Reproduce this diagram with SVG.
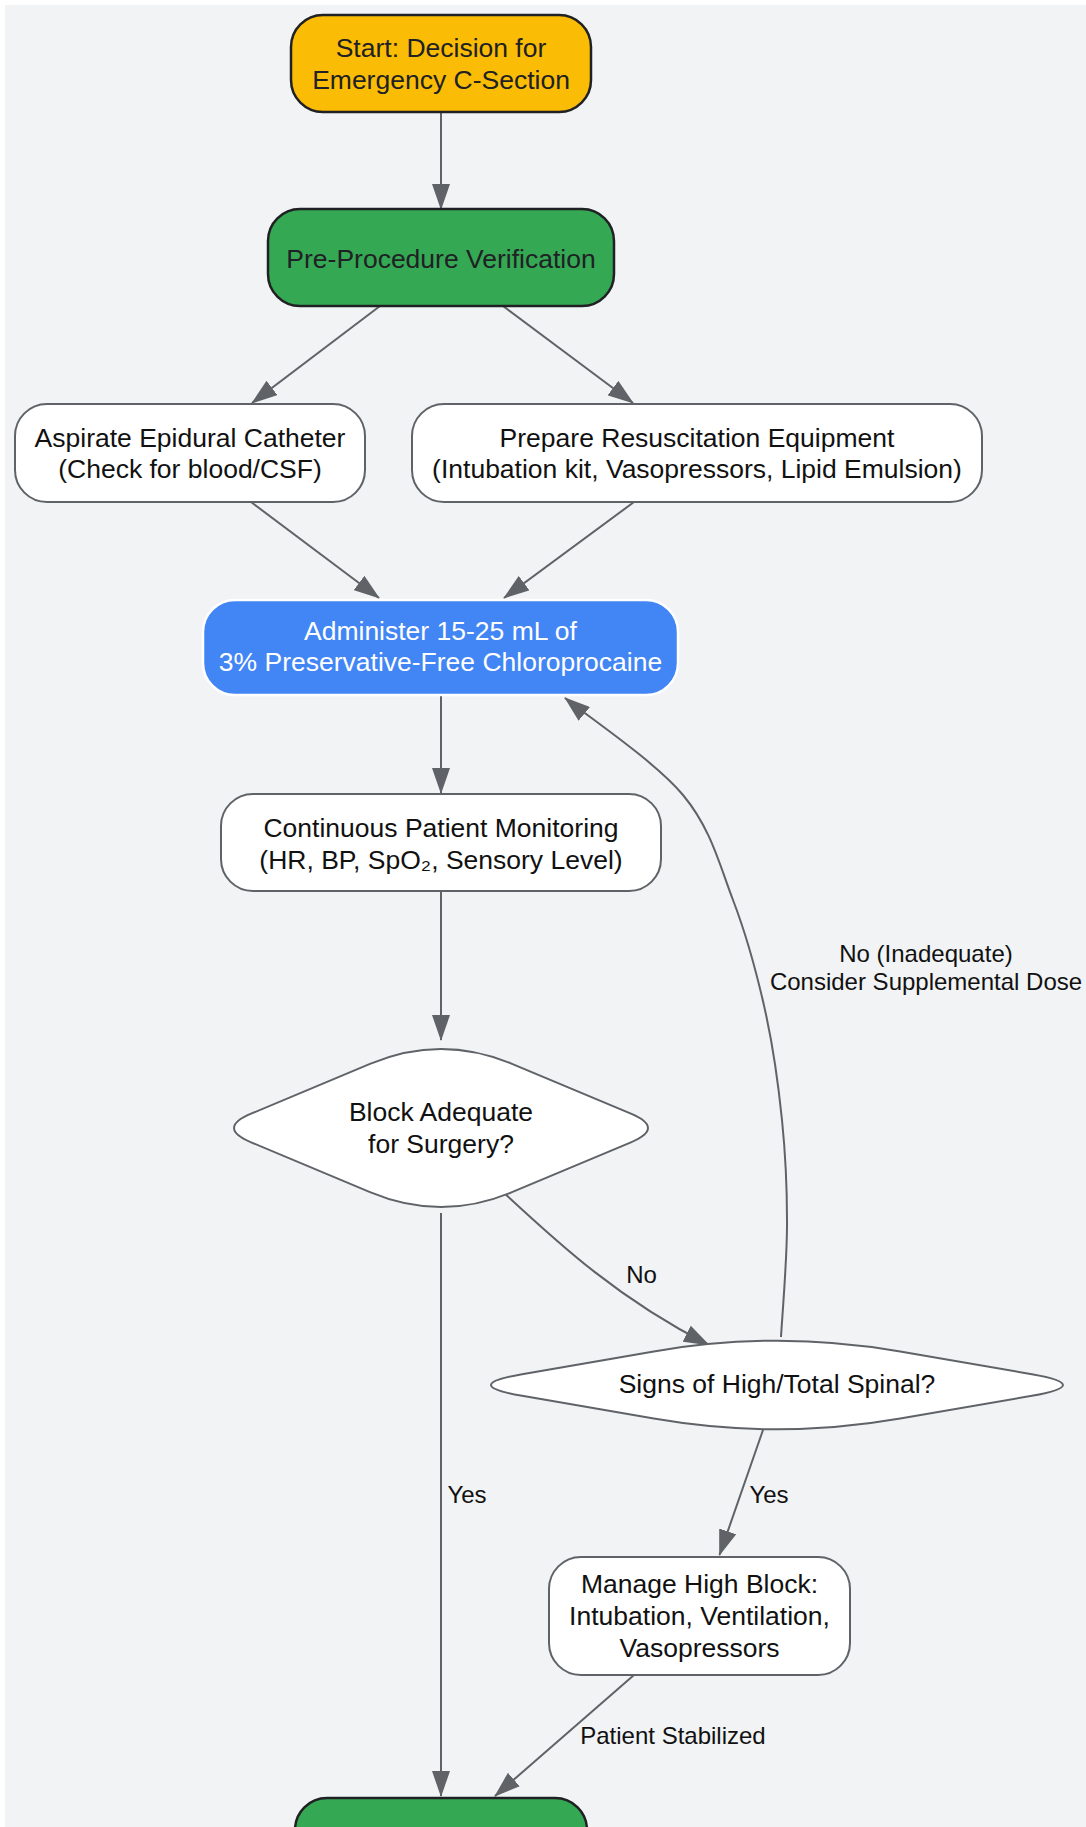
<svg xmlns="http://www.w3.org/2000/svg" width="1086" height="1827" viewBox="0 0 1086 1827">
<defs>
<style>
text{font-family:"Liberation Sans",Arial,sans-serif;text-anchor:middle}
.nt{font-size:26.5px;fill:#111}
.dk{font-size:26.5px;fill:#202124}
.wt{font-size:26.5px;fill:#ffffff}
.lb{font-size:24px;fill:#111}
.wn{fill:#ffffff;stroke:#5f6368;stroke-width:2}
.cn{stroke:#202124;stroke-width:2.5}
.e{fill:none;stroke:#5f6368;stroke-width:2;marker-end:url(#arr)}
</style>
<marker id="arr" viewBox="0 0 26 18" refX="25" refY="9" markerWidth="26" markerHeight="18" markerUnits="userSpaceOnUse" orient="auto">
<path d="M0,0 L26,9 L0,18 z" fill="#5f6368"/>
</marker>
</defs>
<rect x="0" y="0" width="1086" height="1827" fill="#ffffff"/>
<rect x="5" y="5" width="1081" height="1822" fill="#f1f3f4"/>

<g id="connectors">
<path class="e" d="M441,112 L441,209"/>
<path class="e" d="M380,306 L252,403"/>
<path class="e" d="M503,306 L633,403"/>
<path class="e" d="M251,502 L379,598"/>
<path class="e" d="M634,502 L504,598"/>
<path class="e" d="M441,695 L441,793"/>
<path class="e" d="M441,891 L441,1040"/>
<path class="e" d="M502,1191 C560,1245 620,1300 709,1345"/>
<path class="e" d="M441,1213 L441,1796"/>
<path class="e" d="M763,1430 L719.5,1555"/>
<path class="e" d="M634,1675 L495,1796"/>
<path class="e" d="M781,1337 C782,1318.7 786.8,1263.2 787,1227 C787.2,1190.8 785.7,1156.2 782,1120 C778.3,1083.8 773.2,1046.7 765,1010 C756.8,973.3 746.7,935.8 733,900 C719.3,864.2 711,828.7 683,795 C655,761.3 584.7,714.2 565,698"/>
<text class="lb" x="926" y="961.5">No (Inadequate)</text>
<text class="lb" x="926" y="989.5">Consider Supplemental Dose</text>
<text class="lb" x="641.5" y="1283">No</text>
<text class="lb" x="467" y="1503">Yes</text>
<text class="lb" x="769" y="1503">Yes</text>
<text class="lb" x="673" y="1744">Patient Stabilized</text>
</g>

<g id="start">
<rect class="cn" x="291" y="15" width="300" height="97" rx="32" fill="#fbbc05"/>
<text class="dk" x="441" y="57">Start: Decision for</text>
<text class="dk" x="441" y="89">Emergency C-Section</text>
</g>

<g id="preproc">
<rect class="cn" x="268" y="209" width="346" height="97" rx="32" fill="#34a853"/>
<text class="dk" x="441" y="268">Pre-Procedure Verification</text>
</g>

<g id="aspirate">
<rect class="wn" x="15" y="404" width="350" height="98" rx="32"/>
<text class="nt" x="190" y="446.5">Aspirate Epidural Catheter</text>
<text class="nt" x="190" y="478">(Check for blood/CSF)</text>
</g>

<g id="prepare">
<rect class="wn" x="412" y="404" width="570" height="98" rx="32"/>
<text class="nt" x="697" y="446.5">Prepare Resuscitation Equipment</text>
<text class="nt" x="697" y="478">(Intubation kit, Vasopressors, Lipid Emulsion)</text>
</g>

<g id="administer">
<rect x="203" y="600" width="475" height="95" rx="32" fill="#4285f4" stroke="#ffffff" stroke-width="2.5"/>
<text class="wt" x="440.5" y="640">Administer 15-25 mL of</text>
<text class="wt" x="440.5" y="671">3% Preservative-Free Chloroprocaine</text>
</g>

<g id="monitor">
<rect class="wn" x="221" y="794" width="440" height="97" rx="32"/>
<text class="nt" x="441" y="837">Continuous Patient Monitoring</text>
<text class="nt" x="441" y="869">(HR, BP, SpO₂, Sensory Level)</text>
</g>

<g id="adequate">
<path class="wn" d="M370,1063.8 Q441,1034 512,1063.8 L630.9,1113.7 Q665,1128 630.9,1142.3 L512,1192.2 Q441,1222 370,1192.2 L251.1,1142.3 Q217,1128 251.1,1113.7 Z"/>
<text class="nt" x="441" y="1121">Block Adequate</text>
<text class="nt" x="441" y="1152.5">for Surgery?</text>
</g>

<g id="highspinal">
<path class="wn" d="M653.8,1351.4 Q777,1330 900.2,1351.4 L1031.9,1374.2 Q1094,1385 1031.9,1395.8 L900.2,1418.6 Q777,1440 653.8,1418.6 L522.1,1395.8 Q460,1385 522.1,1374.2 Z"/>
<text class="nt" x="777" y="1393">Signs of High/Total Spinal?</text>
</g>

<g id="manage">
<rect class="wn" x="549" y="1557" width="301" height="118" rx="32"/>
<text class="nt" x="699.5" y="1593">Manage High Block:</text>
<text class="nt" x="699.5" y="1624.5">Intubation, Ventilation,</text>
<text class="nt" x="699.5" y="1656.5">Vasopressors</text>
</g>

<g id="proceed">
<rect class="cn" x="295" y="1798" width="292" height="97" rx="32" fill="#34a853"/>
</g>
</svg>
